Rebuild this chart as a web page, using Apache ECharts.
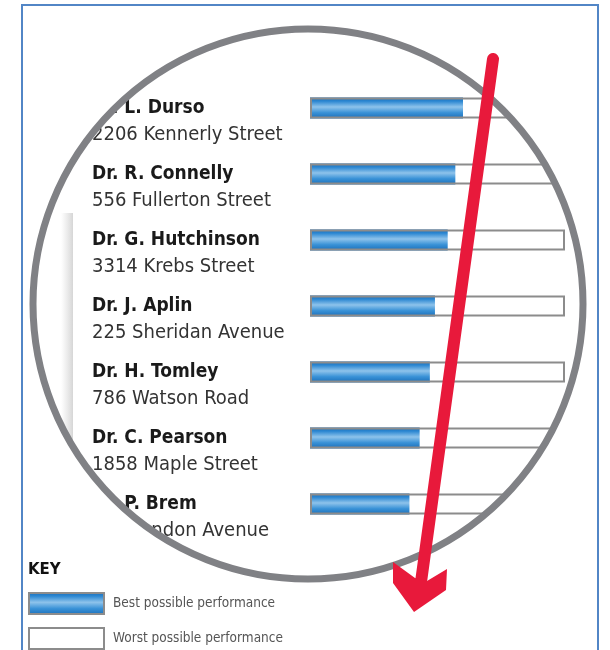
<!DOCTYPE html>
<html>
<head>
<meta charset="utf-8">
<script src="https://cdn.jsdelivr.net/npm/echarts@6/dist/echarts.min.js"></script>
<style>
html,body{margin:0;padding:0;background:#fff;}
#chart{width:610px;height:650px;}
</style>
</head>
<body>
<div id="chart"></div>
<script>
const doctors = ['Dr. L. Durso', 'Dr. R. Connelly', 'Dr. G. Hutchinson', 'Dr. J. Aplin', 'Dr. H. Tomley', 'Dr. C. Pearson', 'Dr. P. Brem'];
const addresses = ['2206 Kennerly Street', '556 Fullerton Street', '3314 Krebs Street', '225 Sheridan Avenue', '786 Watson Road', '1858 Maple Street', '49 Brandon Avenue'];
const bestValues = [60, 57, 54, 49, 47, 43, 39];
const worstValues = [100, 100, 100, 100, 100, 100, 100];
const seriesNames = ['Best possible performance', 'Worst possible performance'];
const keyTitle = 'KEY';

const FONT = "'Liberation Sans Narrow', 'Arial Narrow', 'DejaVu Sans Condensed', sans-serif";
const blueGrad = new echarts.graphic.LinearGradient(0, 0, 0, 1, [
  {offset: 0, color: '#176bb6'},
  {offset: 0.18, color: '#2d88d2'},
  {offset: 0.45, color: '#8ec3eb'},
  {offset: 0.72, color: '#3a92d7'},
  {offset: 1, color: '#196db8'}
]);
const chart = echarts.init(document.getElementById('chart'), null, {renderer: 'canvas'});
chart.setOption({
  animation: false,
  backgroundColor: '#fff',
  title: {
    text: keyTitle, left: 28, top: 563, z: 200, padding: 0,
    textStyle: {fontFamily: 'DejaVu Sans', fontWeight: 900, fontSize: 15, color: '#111'}
  },
  legend: {
    orient: 'vertical', left: 28, top: 592, z: 200, padding: 0,
    itemWidth: 75, itemHeight: 21, itemGap: 12, icon: 'rect',
    selectedMode: false,
    textStyle: {fontFamily: FONT, fontSize: 13.5, color: '#555', padding: [0, 0, 0, 4]},
    data: [
      {name: seriesNames[0], itemStyle: {borderColor: '#8c8c8c', borderWidth: 2}},
      {name: seriesNames[1], itemStyle: {color: '#fff', borderColor: '#8c8c8c', borderWidth: 2}}
    ]
  },
  grid: {left: 310, width: 255, top: 75, height: 462, containLabel: false},
  xAxis: {type: 'value', min: 0, max: 100, show: false},
  yAxis: {
    type: 'category', inverse: true, data: doctors,
    axisLine: {show: false}, axisTick: {show: false}, splitLine: {show: false},
    axisLabel: {
      interval: 0, showMinLabel: true, showMaxLabel: true, hideOverlap: false,
      align: 'left', margin: 218, verticalAlign: 'middle',
      formatter: function (v, i) { return '{e| }\n{n|' + v + '}\n{a|' + addresses[i] + '}'; },
      rich: {
        e: {fontSize: 10, lineHeight: 27, height: 27},
        n: {fontFamily: FONT, fontWeight: 'bold', fontSize: 19, color: '#1a1a1a', lineHeight: 27},
        a: {fontFamily: FONT, fontSize: 20, color: '#333', lineHeight: 27}
      }
    }
  },
  series: [
    {
      name: seriesNames[0], type: 'bar', data: bestValues, barWidth: 21,
      itemStyle: {color: blueGrad}, silent: true
    },
    {
      name: seriesNames[1], type: 'bar', data: worstValues, barWidth: 21, barGap: '-100%',
      itemStyle: {color: 'rgba(255,255,255,0)', borderColor: '#8c8c8c', borderWidth: 2}, silent: true
    }
  ],
  graphic: {
    elements: [
      {
        type: 'rect', z: 50, silent: true,
        shape: {x: 61, y: 213, width: 12, height: 300},
        style: {fill: new echarts.graphic.LinearGradient(0, 0, 1, 0, [
          {offset: 0, color: 'rgba(220,220,220,0)'},
          {offset: 1, color: '#d6d6d6'}
        ])}
      },
      {
        type: 'circle', z: 100, silent: true,
        shape: {cx: 308, cy: 304, r: 475},
        style: {fill: null, stroke: '#fff', lineWidth: 400}
      },
      {
        type: 'circle', z: 110, silent: true,
        shape: {cx: 308, cy: 304, r: 275},
        style: {fill: null, stroke: '#808185', lineWidth: 7}
      },
      {
        type: 'line', z: 120, silent: true,
        shape: {x1: 493, y1: 59, x2: 421, y2: 582},
        style: {stroke: '#e8193b', lineWidth: 12, lineCap: 'round'}
      },
      {
        type: 'polygon', z: 120, silent: true,
        shape: {points: [[415, 578], [393, 562], [393, 583], [414, 612], [446, 590], [447, 569], [427, 581]]},
        style: {fill: '#e8193b'}
      },
      {
        type: 'rect', z: 130, silent: true,
        shape: {x: 22, y: 5, width: 576, height: 700},
        style: {fill: null, stroke: '#5286c6', lineWidth: 2}
      }
    ]
  }
});
</script>
</body>
</html>
